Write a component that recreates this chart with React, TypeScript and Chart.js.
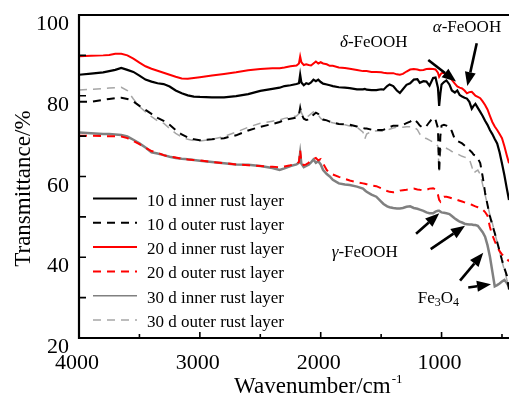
import React, { useEffect, useRef } from "react";
import { Chart, registerables } from "chart.js";

Chart.register(...registerables);

// ---------- data ----------
const wavenumbers = [
  4000, 3900, 3800, 3750, 3700, 3650, 3600, 3550, 3500, 3450,
  3400, 3350, 3300, 3250, 3200, 3150, 3100, 3050, 3000, 2900,
  2800, 2700, 2600, 2500, 2400, 2340, 2300, 2250, 2200, 2180,
  2170, 2160, 2140, 2120, 2100, 2080, 2060, 2040, 2020, 2000,
  1980, 1950, 1925, 1900, 1850, 1800, 1760, 1700, 1650, 1635,
  1620, 1580, 1540, 1500, 1480, 1450, 1430, 1400, 1370, 1345,
  1320, 1290, 1260, 1230, 1200, 1180, 1150, 1125, 1100, 1070,
  1050, 1030, 1020, 1010, 1000, 980, 960, 935, 915, 890,
  870, 850, 830, 810, 790, 770, 750, 735, 720, 700,
  680, 660, 640, 620, 600, 580, 560, 540, 520, 500,
  480, 460, 442,
];

const inner10 = [
  85.2, 85.5, 85.8, 86.1, 86.4, 86.9, 86.4, 85.9, 85.0, 84.0,
  83.5, 83.1, 82.9, 82.3, 81.3, 80.6, 80.1, 79.8, 79.7, 79.6,
  79.6, 79.9, 80.4, 81.2, 81.7, 82.0, 82.4, 82.6, 82.9, 83.1,
  85.2, 83.3, 82.6, 83.1, 82.9, 83.3, 84.0, 83.6, 84.0, 83.4,
  83.0, 82.8, 82.6, 82.4, 82.1, 82.0, 81.9, 81.6, 81.6, 81.7,
  81.5, 81.4, 81.4, 81.6, 81.5, 82.4, 82.8, 82.4, 81.3, 80.7,
  81.6, 82.7, 83.1, 84.0, 84.1, 83.2, 83.6, 83.5, 82.5, 84.4,
  84.5, 82.0, 77.5, 80.5, 82.8, 83.4, 83.8, 82.8, 81.3, 80.8,
  81.3, 80.2, 79.8, 79.5, 79.3, 78.5, 76.8, 77.5, 78.0, 77.0,
  76.0, 75.0, 73.8, 72.8, 71.5, 70.5, 69.3, 68.2, 66.0, 63.2,
  60.3, 57.0, 54.2,
];

const outer10 = [
  78.5, 78.5, 79.0, 79.2, 79.4, 79.5, 79.2, 78.6, 77.5, 76.5,
  75.5, 74.5, 73.8, 72.8, 71.5, 70.4, 69.7, 69.2, 69.0, 69.2,
  69.5, 70.2, 71.4, 72.3, 73.0, 73.5, 74.0, 74.3, 74.6, 75.3,
  77.0, 75.5, 74.3, 74.0, 74.1, 74.6, 75.3, 75.8, 75.5, 74.6,
  74.1, 73.9, 73.6, 73.4, 73.0, 72.9, 72.8, 72.4, 72.0, 71.9,
  71.9, 71.6, 71.5, 71.5, 71.6, 71.9, 72.2, 72.6, 72.6, 72.5,
  72.8, 73.2, 73.6, 74.2, 73.4, 72.6, 72.0, 72.5, 73.5, 74.6,
  74.1, 72.0, 61.0, 70.0, 72.6, 72.8, 72.6, 72.3, 71.2, 69.2,
  68.8, 68.5, 68.2, 67.7, 67.2, 66.6, 66.0, 65.4, 65.2, 64.5,
  63.3, 60.0, 56.0, 53.0, 50.2, 48.0, 46.0, 43.8, 41.5, 39.3,
  37.3, 35.5, 32.0,
];

const inner20 = [
  89.8, 89.9, 90.0, 90.1, 90.4, 90.4, 90.0, 89.2, 88.2, 87.3,
  86.7, 86.2, 85.7, 85.2, 84.7, 84.3, 84.2, 84.4, 84.6, 85.0,
  85.4, 85.8, 86.3, 86.6, 86.8, 86.8, 87.0, 87.3, 87.5, 88.0,
  89.7, 88.3, 87.6, 87.8, 87.6, 87.5, 88.0, 88.5, 88.0, 88.3,
  88.0, 87.8, 87.4, 87.4, 87.0, 86.9, 86.7, 86.4, 86.1, 86.1,
  86.1, 85.9, 85.9, 85.8, 85.7, 85.6, 85.6, 85.6, 85.3, 85.2,
  85.4, 86.0, 86.5, 86.6, 86.5, 86.3, 86.4, 86.6, 86.7, 86.6,
  86.5, 85.7, 84.7, 85.2, 85.6, 85.7, 85.3, 84.7, 83.9, 83.0,
  82.3, 82.0, 81.8, 81.3, 80.6, 80.9, 81.0, 80.5, 80.0, 79.7,
  79.4, 78.6, 77.7, 76.6, 75.0, 73.5, 72.4, 71.5, 70.5, 69.5,
  67.5, 65.2, 63.3,
];

const outer20 = [
  70.1, 70.1, 70.0, 70.0, 70.0, 69.9, 69.5, 68.8, 68.0, 67.1,
  66.3, 65.9, 65.3, 64.9, 64.7, 64.4, 64.2, 64.1, 64.0, 63.6,
  63.3, 63.0, 62.8, 62.6, 62.4, 62.3, 62.5, 62.8, 63.2, 63.6,
  66.5, 63.5, 62.8, 63.0, 63.4, 64.0, 64.3, 64.6, 64.0, 64.3,
  63.2, 61.6, 60.9, 60.5, 59.9, 59.4, 59.0, 58.6, 58.3, 58.2,
  58.1, 57.8, 57.6, 57.1, 56.8, 56.4, 56.2, 56.1, 56.2, 56.5,
  56.6, 56.7, 56.9, 57.0, 56.8, 56.7, 56.6, 56.7, 57.0, 57.1,
  56.8, 55.5, 54.2, 53.8, 54.5, 55.0, 55.0, 54.8, 54.6, 54.4,
  54.2, 54.0, 53.8, 53.6, 53.4, 53.2, 53.0, 52.8, 52.6, 52.4,
  52.2, 51.8, 51.2, 50.3, 47.5, 45.5, 44.0, 42.6, 41.5, 40.7,
  40.2, 39.6, 39.0,
];

const inner30 = [
  70.9, 70.7, 70.5, 70.5, 70.4, 70.3, 69.9, 69.1, 68.2, 67.2,
  66.0, 65.7, 65.3, 64.9, 64.6, 64.4, 64.3, 64.1, 63.9, 63.6,
  63.3, 63.0, 62.9, 62.6, 62.1, 61.6, 62.0, 62.6, 63.0, 63.4,
  65.8, 63.2, 62.3, 62.6, 62.9, 63.5, 64.2, 63.4, 63.8, 63.0,
  61.6, 60.6, 60.0, 59.2, 58.3, 58.0, 57.9, 57.5, 57.0, 56.6,
  56.2, 55.5, 55.0, 53.8, 53.2, 52.6, 52.4, 52.2, 52.1, 52.1,
  52.2, 52.5, 52.6, 52.2, 52.0, 51.8, 51.5, 51.1, 50.9, 50.9,
  51.3, 51.5, 51.5, 51.3, 51.1, 51.0, 50.9, 50.7, 50.2, 49.6,
  49.2, 48.8, 48.6, 48.3, 48.2, 48.1, 48.1, 48.0, 48.0, 47.8,
  47.0, 46.2, 45.1, 43.0, 40.2, 36.5, 32.8, 33.1, 33.5, 34.0,
  34.4, 33.6, 32.7,
];

const outer30 = [
  81.4, 81.6, 81.8, 81.9, 82.0, 82.1, 81.3, 79.2, 77.3, 76.0,
  74.8, 73.8, 73.2, 71.9, 70.7, 69.8, 69.2, 68.9, 68.8, 69.2,
  69.9, 71.0, 72.2, 73.2, 73.7, 74.0, 74.4, 74.7, 75.0, 75.6,
  77.2, 75.8, 74.6, 74.7, 75.0, 75.5, 76.0, 75.8, 75.2, 74.4,
  74.0, 73.7, 73.5, 73.3, 73.0, 72.8, 72.5, 72.2, 71.0, 69.3,
  70.5, 71.2, 71.3, 71.2, 71.2, 71.5, 71.7, 72.0, 72.2, 72.1,
  72.2, 72.3, 72.3, 72.3, 71.6, 70.5, 69.6, 69.4, 69.0, 68.5,
  68.3, 67.5, 61.2, 66.0, 67.2, 67.2, 67.0, 66.6, 66.2, 65.9,
  65.6, 65.3, 65.0, 64.8, 64.6, 64.3, 62.5, 60.8, 61.2, 61.6,
  60.5, 58.0, 55.5, 53.0, 50.5, 48.5, 46.0, 43.8, 41.5, 39.0,
  36.8, 34.5, 32.7,
];

const seriesLabels = [
  "10 d inner rust layer",
  "10 d outer rust layer",
  "20 d inner rust layer",
  "20 d outer rust layer",
  "30 d inner rust layer",
  "30 d outer rust layer",
];

const xMajorTicks = [4000, 3000, 2000, 1000];
const xMinorTicks = [3500, 2500, 1500, 500];
const yMajorTicks = [20, 40, 60, 80, 100];
const yMinorTicks = [30, 50, 70, 90];

// phase annotations (anchor in data units: wavenumber, transmittance)
type Part = { t: string; italic?: boolean; sub?: boolean };
const phaseLabels: { parts: Part[]; at: [number, number] }[] = [
  { parts: [{ t: "δ", italic: true }, { t: "-FeOOH" }], at: [1840, 92.1] },
  { parts: [{ t: "α", italic: true }, { t: "-FeOOH" }], at: [1073, 95.7] },
  { parts: [{ t: "γ", italic: true }, { t: "-FeOOH" }], at: [1909, 40.0] },
  { parts: [{ t: "Fe" }, { t: "3", sub: true }, { t: "O" }, { t: "4", sub: true }], at: [1197, 28.7] },
];

// arrows: [fromWavenumber, fromT, toWavenumber, toT]
const arrows: [number, number, number, number][] = [
  [1110, 88.85, 880, 83.5],
  [709, 93.0, 787, 82.4],
  [1211, 45.8, 1019, 50.9],
  [1090, 42.0, 806, 47.8],
  [847, 34.2, 655, 41.1],
  [779, 32.5, 591, 33.3],
];

// ---------- styles ----------
const FONT = '"Liberation Serif", "Times New Roman", Times, serif';
const seriesValues = [inner10, outer10, inner20, outer20, inner30, outer30];
const seriesColors = ["#000000", "#000000", "#ff0000", "#ff0000", "#808080", "#a6a6a6"];
const seriesDash = [[], [8, 6], [], [8, 6], [], [8, 6]];
const seriesWidth = [2.2, 2, 2, 2, 2.5, 1.5];
const legendWidth = [2, 2, 2, 2, 1.5, 1.5];

function drawArrow(ctx: CanvasRenderingContext2D, x1: number, y1: number, x2: number, y2: number) {
  const ang = Math.atan2(y2 - y1, x2 - x1);
  const head = 14;
  const half = 5.5;
  const bx = x2 - head * Math.cos(ang);
  const by = y2 - head * Math.sin(ang);
  ctx.beginPath();
  ctx.moveTo(x1, y1);
  ctx.lineTo(bx, by);
  ctx.lineWidth = 2.6;
  ctx.stroke();
  ctx.beginPath();
  ctx.moveTo(x2, y2);
  ctx.lineTo(bx + half * Math.sin(ang), by - half * Math.cos(ang));
  ctx.lineTo(bx - half * Math.sin(ang), by + half * Math.cos(ang));
  ctx.closePath();
  ctx.fill();
}

const framePlugin = {
  id: "frame",
  afterDatasetsDraw(chart: any) {
    const { ctx, chartArea: a, scales } = chart;
    const xs = scales.x;
    const ys = scales.y;
    ctx.save();
    ctx.setLineDash([]);
    ctx.strokeStyle = "#000";
    ctx.fillStyle = "#000";

    // axes and top frame
    ctx.lineWidth = 2.2;
    ctx.beginPath();
    ctx.moveTo(a.right, a.top);
    ctx.lineTo(a.left, a.top);
    ctx.lineTo(a.left, a.bottom);
    ctx.lineTo(a.right, a.bottom);
    ctx.stroke();

    // inward ticks
    ctx.lineWidth = 1.6;
    ctx.beginPath();
    xMajorTicks.forEach((v) => {
      const px = xs.getPixelForValue(v);
      ctx.moveTo(px, a.bottom);
      ctx.lineTo(px, a.bottom - 6);
    });
    xMinorTicks.forEach((v) => {
      const px = xs.getPixelForValue(v);
      ctx.moveTo(px, a.bottom);
      ctx.lineTo(px, a.bottom - 4);
    });
    yMajorTicks.forEach((v) => {
      const py = ys.getPixelForValue(v);
      ctx.moveTo(a.left, py);
      ctx.lineTo(a.left + 7, py);
    });
    yMinorTicks.forEach((v) => {
      const py = ys.getPixelForValue(v);
      ctx.moveTo(a.left, py);
      ctx.lineTo(a.left + 7, py);
    });
    ctx.stroke();

    // tick labels
    ctx.font = `22px ${FONT}`;
    ctx.textBaseline = "alphabetic";
    ctx.textAlign = "right";
    yMajorTicks.forEach((v) => {
      ctx.fillText(String(v), a.left - 10, ys.getPixelForValue(v) + 15);
    });
    ctx.textAlign = "center";
    xMajorTicks.forEach((v) => {
      ctx.fillText(String(v), xs.getPixelForValue(v) - 2, a.bottom + 31);
    });

    // axis titles
    ctx.font = `23px ${FONT}`;
    const main = "Wavenumber/cm";
    const sup = "-1";
    const wMain = ctx.measureText(main).width;
    ctx.font = `13px ${FONT}`;
    const wSup = ctx.measureText(sup).width;
    const cx = xs.getPixelForValue(2020);
    const startX = cx - (wMain + wSup + 1) / 2;
    ctx.textAlign = "left";
    ctx.font = `23px ${FONT}`;
    ctx.fillText(main, startX, a.bottom + 55);
    ctx.font = `13px ${FONT}`;
    ctx.fillText(sup, startX + wMain + 1, a.bottom + 45);

    ctx.save();
    ctx.translate(24, ys.getPixelForValue(57));
    ctx.rotate(-Math.PI / 2);
    ctx.font = `23px ${FONT}`;
    ctx.textAlign = "center";
    ctx.textBaseline = "middle";
    ctx.fillText("Transmittance/%", 0, 0);
    ctx.restore();

    // legend
    const ds = chart.data.datasets;
    ctx.font = `17px ${FONT}`;
    ctx.textAlign = "left";
    ctx.textBaseline = "alphabetic";
    const legX = a.left + 14;
    const legY0 = a.top + 183.5;
    const legStep = 24.3;
    ds.forEach((d: any, i: number) => {
      const ly = legY0 + i * legStep;
      ctx.save();
      ctx.strokeStyle = d.borderColor;
      ctx.lineWidth = legendWidth[i];
      ctx.setLineDash(d.borderDash || []);
      ctx.beginPath();
      ctx.moveTo(legX, ly);
      ctx.lineTo(legX + 44, ly);
      ctx.stroke();
      ctx.restore();
      ctx.fillText(d.label, legX + 54, ly + 7);
    });

    // arrows
    arrows.forEach(([w1, t1, w2, t2]) => {
      drawArrow(
        ctx,
        xs.getPixelForValue(w1),
        ys.getPixelForValue(t1),
        xs.getPixelForValue(w2),
        ys.getPixelForValue(t2)
      );
    });

    // phase labels
    phaseLabels.forEach((lab) => {
      let px = xs.getPixelForValue(lab.at[0]);
      const py = ys.getPixelForValue(lab.at[1]);
      lab.parts.forEach((p) => {
        const size = p.sub ? 12 : 17;
        ctx.font = `${p.italic ? "italic " : ""}${size}px ${FONT}`;
        ctx.fillText(p.t, px, py + (p.sub ? 3 : 0));
        px += ctx.measureText(p.t).width;
      });
    });

    ctx.restore();
  },
};

export default function App() {
  const ref = useRef<HTMLCanvasElement>(null);

  useEffect(() => {
    if (!ref.current) return;
    const order = [0, 1, 2, 3, 5, 4];
    const datasets = seriesValues.map((vals, i) => ({
      label: seriesLabels[i],
      data: wavenumbers.map((w, k) => ({ x: w, y: vals[k] })),
      borderColor: seriesColors[i],
      backgroundColor: seriesColors[i],
      borderDash: seriesDash[i],
      borderWidth: seriesWidth[i],
      pointRadius: 0,
      tension: 0,
      fill: false,
      order: order[i],
    }));

    const chart = new Chart(ref.current, {
      type: "line",
      data: { datasets },
      options: {
        responsive: false,
        maintainAspectRatio: false,
        animation: false,
        devicePixelRatio: 1,
        layout: { padding: { top: 15, right: 0, left: 0, bottom: 0 } },
        scales: {
          x: {
            type: "linear",
            reverse: true,
            min: 442,
            max: 4000,
            ticks: { display: false, stepSize: 1000, includeBounds: false },
            grid: { display: false, drawTicks: false },
            border: { display: false },
            afterFit: (s: any) => {
              s.height = 64;
            },
          },
          y: {
            type: "linear",
            min: 20,
            max: 100,
            ticks: { display: false, stepSize: 20 },
            grid: { display: false, drawTicks: false },
            border: { display: false },
            afterFit: (s: any) => {
              s.width = 79;
            },
          },
        },
        plugins: {
          legend: { display: false },
          tooltip: { enabled: false },
          title: { display: false },
        },
      },
      plugins: [framePlugin],
    } as any);
    return () => chart.destroy();
  }, []);

  return (
    <div style={{ position: "absolute", left: 0, top: 0, width: 509, height: 402, background: "#fff" }}>
      <canvas ref={ref} width={509} height={402} style={{ display: "block", width: 509, height: 402 }} />
    </div>
  );
}
